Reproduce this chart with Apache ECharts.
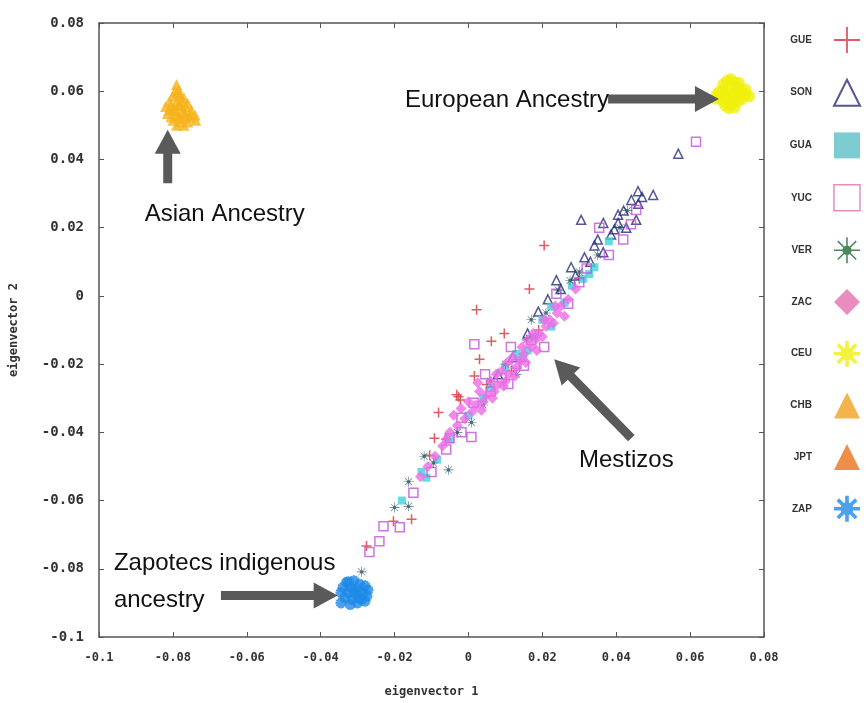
<!DOCTYPE html>
<html lang="en">
<head>
<meta charset="UTF-8">
<title>eigenvector scatter</title>
<style>
  html, body { margin: 0; padding: 0; background: #fff; }
  #main { width: 866px; height: 703px; }
</style>
</head>
<body>
<div id="main"></div>
<script src="https://cdn.jsdelivr.net/npm/echarts/dist/echarts.min.js"></script>
<script>
// ---- data (eigenvector 1, eigenvector 2) ----
var groups = ['GUE', 'SON', 'GUA', 'YUC', 'VER', 'ZAC', 'CEU', 'CHB', 'JPT', 'ZAP'];

var gue = [[0.0205,0.0148],[0.0165,0.0020],[0.0022,-0.0041],[0.0097,-0.0110],[0.0062,-0.0133],
  [0.0030,-0.0186],[0.0016,-0.0235],[-0.0027,-0.0296],[-0.0022,-0.0305],[-0.0032,-0.0290],
  [-0.0081,-0.0342],[-0.0092,-0.0417],[-0.0105,-0.0467],[-0.0154,-0.0655],[-0.0203,-0.0661],
  [-0.0276,-0.0733],[0.0116,-0.0220],[0.0190,-0.0100],[0.0300,0.0050],[-0.0060,-0.0420],[0.0050,-0.0260]];

var son = [[0.0459,0.0307],[0.0500,0.0296],[0.0441,0.0281],[0.0305,0.0223],[0.0365,0.0214],
  [0.0405,0.0238],[0.0427,0.0200],[0.0405,0.0214],[0.0454,0.0223],[0.0386,0.0180],
  [0.0341,0.0148],[0.0365,0.0128],[0.0314,0.0113],[0.0278,0.0084],[0.0238,0.0046],
  [0.0189,-0.0046],[0.0568,0.0417],[0.0460,0.0270],[0.0420,0.0250],[0.0470,0.0290],
  [0.0120,-0.0180],[0.0080,-0.0230],[0.0160,-0.0110],[0.0250,0.0020],[0.0290,0.0060],
  [0.0330,0.0100],[0.0395,0.0195],[0.0350,0.0165],[0.0215,-0.0010]];

var gua = [[0.0341,0.0084],[0.0327,0.0064],[0.0224,-0.0032],[0.0149,-0.0177],[0.0224,-0.0090],
  [-0.0127,-0.0516],[-0.0114,-0.0533],[0.0000,-0.0351],[0.0060,-0.0270],[0.0100,-0.0210],
  [0.0180,-0.0120],[0.0280,0.0030],[0.0380,0.0160],[-0.0050,-0.0420],[-0.0180,-0.0600],
  [0.0130,-0.0170],[0.0040,-0.0300],[0.0200,-0.0070],[0.0260,-0.0020],[0.0310,0.0050],
  [-0.0085,-0.0480],[0.0160,-0.0160]];

var yuc = [[0.0616,0.0452],[0.0419,0.0165],[0.0454,0.0252],[0.0354,0.0200],[0.0238,0.0006],
  [0.0270,-0.0023],[0.0016,-0.0142],[-0.0268,-0.0751],[-0.0241,-0.0719],[-0.0230,-0.0675],
  [-0.0186,-0.0678],[-0.0149,-0.0577],[-0.0100,-0.0516],[-0.0051,-0.0417],[-0.0019,-0.0400],
  [0.0008,-0.0414],[0.0014,-0.0313],[-0.0019,-0.0357],[0.0108,-0.0258],[0.0060,-0.0280],
  [0.0090,-0.0240],[0.0130,-0.0200],[0.0170,-0.0130],[0.0320,0.0080],[0.0380,0.0120],
  [0.0440,0.0210],[0.0300,0.0040],[-0.0060,-0.0450],[0.0045,-0.0230],[0.0150,-0.0205],
  [0.0205,-0.0150],[0.0115,-0.0150]];

var ver = [[-0.0289,-0.0809],[-0.0200,-0.0620],[-0.0162,-0.0617],[-0.0162,-0.0545],[-0.0054,-0.0510],
  [-0.0095,-0.0490],[0.0008,-0.0371],[0.0170,-0.0070],[0.0157,-0.0128],[0.0243,0.0017],
  [0.0040,-0.0320],[0.0100,-0.0200],[0.0210,-0.0050],[0.0300,0.0070],[0.0350,0.0120],
  [0.0410,0.0200],[0.0430,0.0250],[-0.0030,-0.0400],[0.0060,-0.0250],[0.0130,-0.0230],
  [-0.0120,-0.0470],[0.0275,0.0045]];

var zac = [[-0.0130,-0.0530],[-0.0110,-0.0500],[-0.0090,-0.0470],[-0.0070,-0.0440],[-0.0050,-0.0400],
  [-0.0030,-0.0380],[-0.0010,-0.0360],[0.0010,-0.0340],[0.0020,-0.0320],[0.0040,-0.0310],
  [0.0050,-0.0290],[0.0070,-0.0280],[0.0080,-0.0260],[0.0100,-0.0250],[0.0110,-0.0230],
  [0.0130,-0.0210],[0.0140,-0.0190],[0.0150,-0.0170],[0.0170,-0.0150],[0.0180,-0.0130],
  [0.0190,-0.0110],[0.0210,-0.0090],[0.0220,-0.0070],[0.0240,-0.0050],[0.0250,-0.0030],
  [0.0270,-0.0010],[0.0290,0.0020],[0.0060,-0.0250],[0.0090,-0.0220],[0.0120,-0.0180],
  [0.0030,-0.0280],[0.0160,-0.0130],[0.0200,-0.0120],[0.0230,-0.0080],[-0.0040,-0.0350],
  [0.0000,-0.0310],[0.0035,-0.0335],[0.0065,-0.0300],[0.0095,-0.0265],[0.0125,-0.0235],
  [0.0155,-0.0195],[0.0185,-0.0160],[0.0025,-0.0255],[0.0075,-0.0230],[0.0105,-0.0195],
  [0.0145,-0.0150],[0.0175,-0.0110],[0.0205,-0.0070],[-0.0020,-0.0330],[-0.0060,-0.0420],
  [0.0235,-0.0030],[0.0260,-0.0060]];

var ceu = [[0.0680,0.0600],[0.0690,0.0620],[0.0700,0.0630],[0.0710,0.0635],[0.0720,0.0625],
  [0.0730,0.0610],[0.0740,0.0600],[0.0750,0.0590],[0.0760,0.0585],[0.0700,0.0580],
  [0.0690,0.0570],[0.0710,0.0560],[0.0720,0.0552],[0.0730,0.0570],[0.0680,0.0580],
  [0.0672,0.0590],[0.0715,0.0595],[0.0725,0.0590],[0.0705,0.0605],[0.0695,0.0558],
  [0.0740,0.0578],[0.0668,0.0578],[0.0732,0.0625],[0.0750,0.0605],[0.0705,0.0550],
  [0.0688,0.0598],[0.0722,0.0608],[0.0712,0.0578],[0.0738,0.0592]];

var chb = [[-0.0790,0.0620],[-0.0785,0.0605],[-0.0795,0.0600],[-0.0780,0.0590],[-0.0800,0.0585],
  [-0.0770,0.0580],[-0.0810,0.0570],[-0.0790,0.0570],[-0.0760,0.0565],[-0.0820,0.0555],
  [-0.0800,0.0550],[-0.0775,0.0550],[-0.0750,0.0545],[-0.0740,0.0530],[-0.0815,0.0535],
  [-0.0790,0.0530],[-0.0765,0.0530],[-0.0800,0.0515],[-0.0780,0.0510],[-0.0760,0.0510],
  [-0.0738,0.0515],[-0.0790,0.0500],[-0.0788,0.0595],[-0.0778,0.0575],[-0.0805,0.0560],
  [-0.0783,0.0560],[-0.0765,0.0555],[-0.0810,0.0545],[-0.0752,0.0535],[-0.0775,0.0520],
  [-0.0805,0.0525],[-0.0770,0.0500]];

var jpt = [[-0.0780,0.0560],[-0.0795,0.0545],[-0.0770,0.0540],[-0.0785,0.0525],[-0.0755,0.0525]];

var zap = [[-0.0330,-0.0840],[-0.0310,-0.0835],[-0.0295,-0.0845],[-0.0340,-0.0855],[-0.0320,-0.0855],
  [-0.0300,-0.0860],[-0.0280,-0.0850],[-0.0345,-0.0870],[-0.0325,-0.0870],[-0.0305,-0.0875],
  [-0.0285,-0.0870],[-0.0335,-0.0885],[-0.0315,-0.0890],[-0.0295,-0.0885],[-0.0275,-0.0880],
  [-0.0345,-0.0900],[-0.0320,-0.0905],[-0.0300,-0.0900],[-0.0280,-0.0895],[-0.0325,-0.0838],
  [-0.0272,-0.0862],[-0.0310,-0.0865],[-0.0290,-0.0890]];

// annotations: [text, tail, tip] in data units
var notes = [
  { text: 'European Ancestry', tail: [0.0378, 0.0577], tip: [0.0678, 0.0577] },
  { text: 'Asian Ancestry',    tail: [-0.0814, 0.0330], tip: [-0.0814, 0.0487] },
  { text: 'Zapotecs indigenous\nancestry', tail: [-0.0670, -0.0878], tip: [-0.0354, -0.0878] },
  { text: 'Mestizos',          tail: [0.0441, -0.0417], tip: [0.0232, -0.0186] }
];

// ---- symbols ----
var crossPath = 'path://M8.5,0L11.5,0L11.5,8.5L20,8.5L20,11.5L11.5,11.5L11.5,20L8.5,20L8.5,11.5L0,11.5L0,8.5L8.5,8.5Z';
var crossThin = 'path://M9.3,0L10.7,0L10.7,9.3L20,9.3L20,10.7L10.7,10.7L10.7,20L9.3,20L9.3,10.7L0,10.7L0,9.3L9.3,9.3Z';

function burst(n, w, rc) {
  var d = '';
  for (var k = 0; k < n; k++) {
    var a = k * Math.PI * 2 / n, dx = Math.cos(a), dy = Math.sin(a), px = -dy, py = dx;
    var pts = [[px*w, py*w], [px*w + dx*10, py*w + dy*10], [-px*w + dx*10, -py*w + dy*10], [-px*w, -py*w]];
    d += 'M' + pts.map(function (p) { return (10 + p[0]).toFixed(2) + ',' + (10 + p[1]).toFixed(2); }).join('L') + 'Z';
  }
  var c = [];
  for (var j = 0; j < 16; j++) {
    var b = -j * Math.PI * 2 / 16;
    c.push((10 + rc*Math.cos(b)).toFixed(2) + ',' + (10 + rc*Math.sin(b)).toFixed(2));
  }
  d += 'M' + c.join('L') + 'Z';
  return 'path://' + d;
}
var burstThin = burst(8, 0.6, 3.6);
var burstFat = burst(8, 1.4, 5);
var burstBlob = burst(12, 2.0, 7);

var clear = 'rgba(0,0,0,0)';

function sc(name, data, symbol, size, style, z) {
  return { name: name, type: 'scatter', data: data, symbol: symbol, symbolSize: size,
           itemStyle: style, z: z || 2, emphasis: { disabled: true } };
}

var series = [
  sc('GUE', gue, crossPath, 10, { color: '#d8323c' }),
  sc('SON', son, 'triangle', 9, { color: clear, borderColor: '#2b2c7c', borderWidth: 1.5 }),
  sc('GUA', gua, 'rect', 8, { color: '#3ed2dc' }),
  sc('YUC', yuc, 'rect', 9, { color: clear, borderColor: '#c052dc', borderWidth: 1.5 }),
  sc('VER', ver, burstThin, 10, { color: '#1d4b5a' }),
  sc('ZAC', zac, 'diamond', 11, { color: '#ee6ce6' }),
  sc('CEU', ceu, burstBlob, 12, { color: '#f0f00c' }),
  sc('JPT', jpt, 'triangle', 12, { color: '#f4ac1c' }, 2),
  sc('CHB', chb, 'triangle', 11, { color: '#f6b31c' }, 3),
  sc('ZAP', zap, burstBlob, 11, { color: '#1e8ae6' })
];

var legendData = [
  { name: 'GUE', icon: crossThin, itemStyle: { color: '#d8323c' } },
  { name: 'SON', icon: 'triangle', itemStyle: { color: clear, borderColor: '#2b2c7c', borderWidth: 2 } },
  { name: 'GUA', icon: 'rect', itemStyle: { color: '#5cbfc6' } },
  { name: 'YUC', icon: 'rect', itemStyle: { color: clear, borderColor: '#e46fa8', borderWidth: 1.5 } },
  { name: 'VER', icon: burstThin, itemStyle: { color: '#1e6b35' } },
  { name: 'ZAC', icon: 'diamond', itemStyle: { color: '#e66fae' } },
  { name: 'CEU', icon: burstFat, itemStyle: { color: '#f0f00c' } },
  { name: 'CHB', icon: 'triangle', itemStyle: { color: '#f3a01e' } },
  { name: 'JPT', icon: 'triangle', itemStyle: { color: '#e8731a' } },
  { name: 'ZAP', icon: burstFat, itemStyle: { color: '#1e8ae6' } }
];

var axisFont = { fontFamily: 'DejaVu Sans Mono', fontWeight: 'bold', color: '#333' };
function fmt(v) { return String(parseFloat(v.toFixed(2))); }
var frameLine = { onZero: false, lineStyle: { color: '#555', width: 1.5 } };
var tick = { inside: true, length: 5, lineStyle: { color: '#555' } };

var chart = echarts.init(document.getElementById('main'));
chart.setOption({
  backgroundColor: '#fff',
  animation: false,
  grid: { left: 97, right: 102, top: 23, bottom: 59 },
  legend: {
    data: legendData,
    orient: 'vertical', right: 0, top: 22, align: 'right',
    itemWidth: 26, itemHeight: 26, itemGap: 25.7,
    selectedMode: false,
    textStyle: { fontFamily: 'Liberation Sans', fontWeight: 'bold', fontSize: 10, color: '#333', padding: [0, 17, 0, 0] }
  },
  xAxis: [{
    type: 'value', min: -0.1, max: 0.08, interval: 0.02,
    name: 'eigenvector 1', nameLocation: 'middle', nameGap: 49,
    nameTextStyle: Object.assign({ fontSize: 12 }, axisFont),
    axisLine: frameLine, axisTick: tick,
    axisLabel: Object.assign({ fontSize: 12, margin: 15, formatter: fmt }, axisFont),
    splitLine: { show: false }
  }, {
    type: 'value', position: 'top', min: -0.1, max: 0.08, interval: 0.02,
    axisLine: frameLine, axisTick: tick,
    axisLabel: { show: false }, splitLine: { show: false }
  }],
  yAxis: [{
    type: 'value', min: -0.1, max: 0.08, interval: 0.02,
    name: 'eigenvector 2', nameLocation: 'middle', nameGap: 79,
    nameTextStyle: Object.assign({ fontSize: 12 }, axisFont),
    axisLine: frameLine, axisTick: tick,
    axisLabel: Object.assign({ fontSize: 14, margin: 15, formatter: fmt }, axisFont),
    splitLine: { show: false }
  }, {
    type: 'value', position: 'right', min: -0.1, max: 0.08, interval: 0.02,
    axisLine: frameLine, axisTick: tick,
    axisLabel: { show: false }, splitLine: { show: false }
  }],
  series: series
});

// arrows and captions placed through the axes
function px(p) { return chart.convertToPixel({ xAxisIndex: 0, yAxisIndex: 0 }, p); }
function arrow(t, p, w, hl, hw) {
  var dx = p[0] - t[0], dy = p[1] - t[1], L = Math.sqrt(dx*dx + dy*dy);
  dx /= L; dy /= L;
  var nx = -dy, ny = dx, bx = p[0] - dx*hl, by = p[1] - dy*hl;
  return [[t[0]+nx*w/2, t[1]+ny*w/2], [bx+nx*w/2, by+ny*w/2], [bx+nx*hw/2, by+ny*hw/2], p,
          [bx-nx*hw/2, by-ny*hw/2], [bx-nx*w/2, by-ny*w/2], [t[0]-nx*w/2, t[1]-ny*w/2]];
}
var g = [];
var font = '24px "Liberation Sans", Arial, sans-serif';
notes.forEach(function (n, i) {
  var t = px(n.tail), p = px(n.tip);
  g.push({ type: 'polygon', shape: { points: arrow(t, p, 9, 24, 26) }, style: { fill: '#5a5a5a' }, z: 50 });
  var st = { text: n.text, font: font, fill: '#111' };
  if (i === 0) { st.x = t[0] + 1; st.y = t[1] + 1; st.align = 'right'; st.verticalAlign = 'middle'; }
  if (i === 1) { st.x = t[0] + 57; st.y = t[1] + 31; st.align = 'center'; st.verticalAlign = 'middle'; }
  if (i === 2) { st.x = t[0] - 107; st.y = t[1] - 14; st.align = 'left'; st.verticalAlign = 'middle'; st.lineHeight = 37; }
  if (i === 3) { st.x = t[0] - 5; st.y = t[1] + 22; st.align = 'center'; st.verticalAlign = 'middle'; }
  g.push({ type: 'text', style: st, z: 50 });
});
chart.setOption({ graphic: g });
</script>
</body>
</html>
